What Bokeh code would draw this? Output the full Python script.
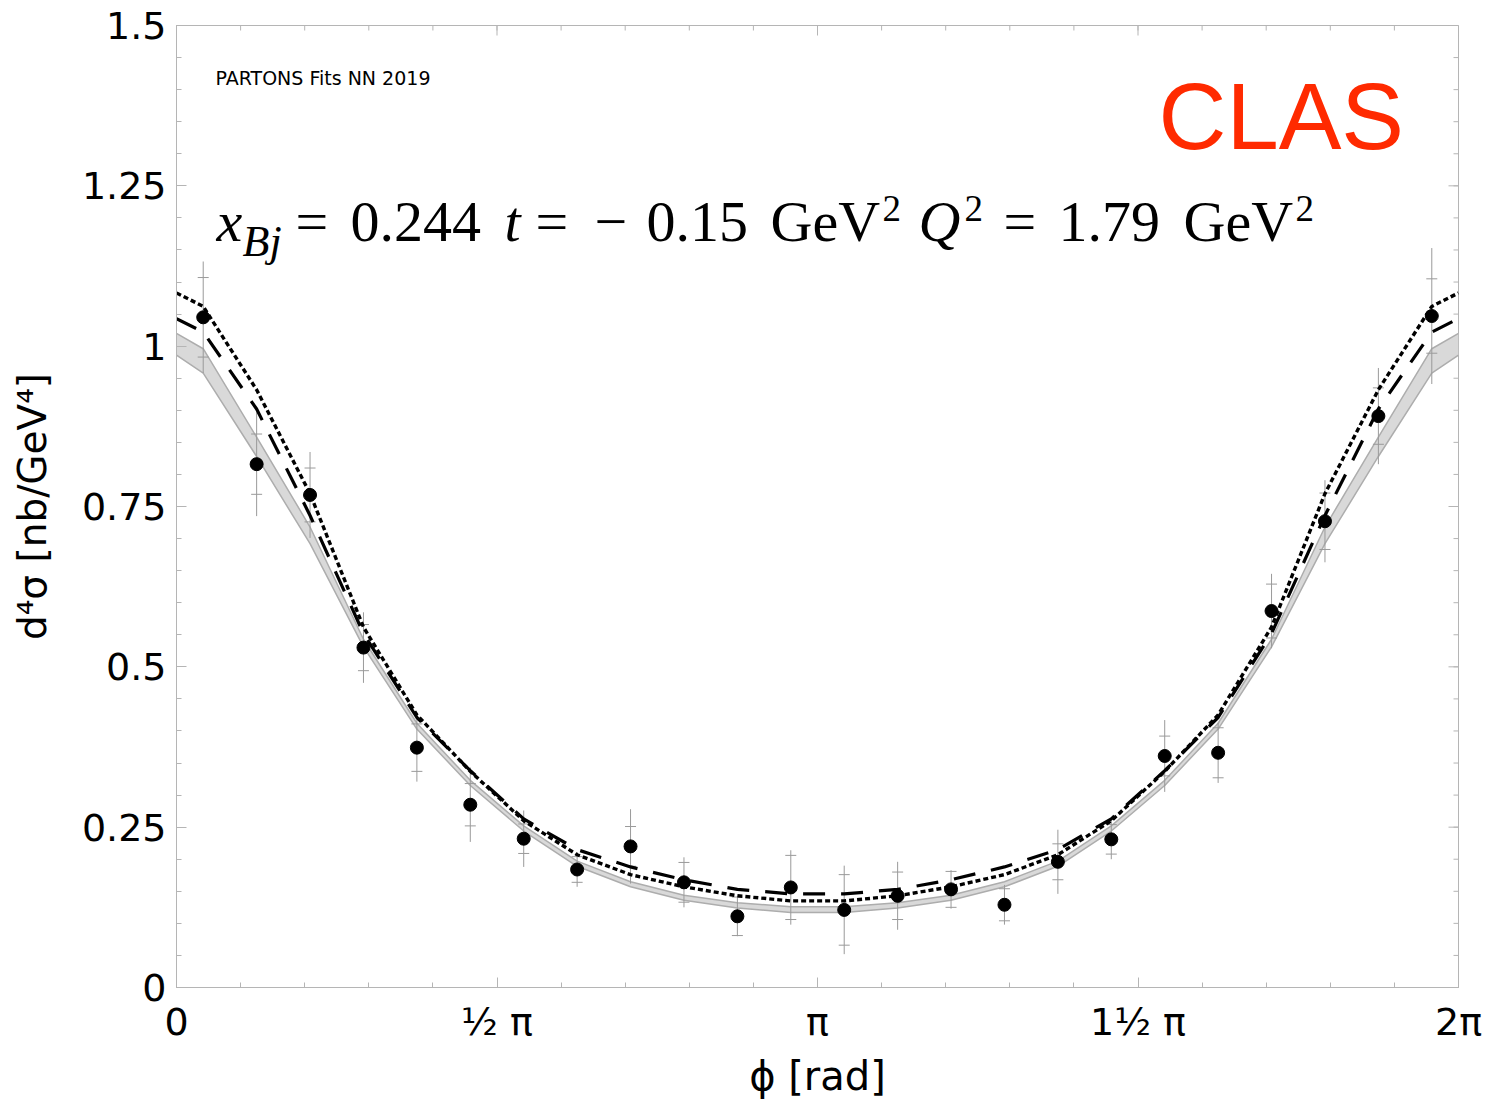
import math
from bokeh.plotting import figure
from bokeh.models import Range1d, FixedTicker, LinearAxis, Label
from bokeh.embed import file_html
from bokeh.resources import INLINE

# ---------------- data ----------------
phi_deg = [7.5, 22.5, 37.5, 52.5, 67.5, 82.5, 97.5, 112.5, 127.5, 142.5, 157.5, 172.5,
           187.5, 202.5, 217.5, 232.5, 247.5, 262.5, 277.5, 292.5, 307.5, 322.5, 337.5, 352.5]
xsec = [1.045, 0.816, 0.768, 0.530, 0.374, 0.285, 0.232, 0.184, 0.220, 0.164, 0.111, 0.156,
        0.121, 0.143, 0.153, 0.129, 0.196, 0.231, 0.361, 0.366, 0.587, 0.727, 0.891, 1.047]
err_stat = [0.062, 0.047, 0.042, 0.036, 0.037, 0.033, 0.023, 0.020, 0.031, 0.031, 0.030, 0.050,
            0.055, 0.037, 0.028, 0.025, 0.028, 0.023, 0.031, 0.039, 0.042, 0.044, 0.044, 0.058]
err_tot = [0.087, 0.081, 0.067, 0.055, 0.053, 0.058, 0.044, 0.027, 0.058, 0.039, 0.031, 0.058,
           0.069, 0.053, 0.030, 0.031, 0.050, 0.031, 0.056, 0.047, 0.058, 0.064, 0.075, 0.106]

curve_deg = [0, 7.5, 22.5, 37.5, 52.5, 67.5, 82.5, 97.5, 112.5, 127.5, 142.5, 157.5, 172.5,
             187.5, 202.5, 217.5, 232.5, 247.5, 262.5, 277.5, 292.5, 307.5, 322.5, 337.5, 352.5, 360]
dotted_curve = [1.083, 1.062, 0.932, 0.770, 0.562, 0.425, 0.337, 0.260, 0.207, 0.176, 0.157, 0.143, 0.135,
                0.135, 0.143, 0.157, 0.176, 0.207, 0.260, 0.337, 0.425, 0.562, 0.770, 0.932, 1.062, 1.083]
dashed_curve = [1.043, 1.022, 0.902, 0.736, 0.552, 0.421, 0.338, 0.263, 0.215, 0.188, 0.168, 0.153, 0.146,
                0.146, 0.153, 0.168, 0.188, 0.215, 0.263, 0.338, 0.421, 0.552, 0.736, 0.902, 1.022, 1.043]
band_hi = [1.020, 0.996, 0.858, 0.718, 0.543, 0.412, 0.323, 0.252, 0.197, 0.165, 0.144, 0.132, 0.126,
           0.126, 0.132, 0.144, 0.165, 0.197, 0.252, 0.323, 0.412, 0.543, 0.718, 0.858, 0.996, 1.020]
band_lo = [0.986, 0.958, 0.828, 0.692, 0.531, 0.403, 0.315, 0.244, 0.189, 0.157, 0.136, 0.124, 0.117,
           0.117, 0.124, 0.136, 0.157, 0.189, 0.244, 0.315, 0.403, 0.531, 0.692, 0.828, 0.958, 0.986]

y_ticks = [0, 0.25, 0.5, 0.75, 1.0, 1.25, 1.5]
y_tick_labels = ["0", "0.25", "0.5", "0.75", "1", "1.25", "1.5"]
x_ticks = [0, math.pi / 2, math.pi, 3 * math.pi / 2, 2 * math.pi]
x_tick_labels = ["0", "\u00bd \u03c0", "\u03c0", "1\u00bd \u03c0", "2\u03c0"]

# ---------------- layout ----------------
W, H = 1486, 1111
FL, FR, FT, FB = 176, 1458, 25, 987
XMAX = 2 * math.pi
YMAX = 1.5


def px2x(px):
    return (px - FL) / (FR - FL) * XMAX


def py2y(py):
    return (FB - py) / (FB - FT) * YMAX


p = figure(width=W, height=H, output_backend="svg", toolbar_location=None,
           x_range=Range1d(0, XMAX), y_range=Range1d(0, YMAX),
           min_border_left=FL, min_border_right=W - FR, min_border_top=FT,
           min_border_bottom=H - FB, x_axis_location=None, y_axis_location=None)
p.xgrid.visible = False
p.ygrid.visible = False
AX_COL = "#b5b5b5"
p.outline_line_color = AX_COL
p.background_fill_color = "white"
p.border_fill_color = "white"

x_minor = [k * math.pi / 10 for k in range(21)]
y_minor = [round(0.05 * k, 2) for k in range(31)]
xt = FixedTicker(ticks=x_ticks, minor_ticks=x_minor)
yt = FixedTicker(ticks=y_ticks, minor_ticks=y_minor)


def style_axis(ax):
    ax.axis_line_color = AX_COL
    ax.major_tick_line_color = AX_COL
    ax.minor_tick_line_color = AX_COL
    ax.major_tick_in = 10
    ax.major_tick_out = 0
    ax.minor_tick_in = 5
    ax.minor_tick_out = 0
    ax.major_label_text_font = "DejaVu Sans"
    ax.major_label_text_color = "black"
    ax.axis_label_text_font = "DejaVu Sans"
    ax.axis_label_text_font_style = "normal"
    ax.axis_label_text_color = "black"


xb = LinearAxis(ticker=xt, axis_label="\u03d5 [rad]")
style_axis(xb)
xb.major_label_overrides = {t: l for t, l in zip(x_ticks, x_tick_labels)}
xb.major_label_text_font_size = "38px"
xb.major_label_standoff = 12
xb.axis_label_text_font_size = "40px"
xb.axis_label_standoff = 6
p.add_layout(xb, "below")

yl = LinearAxis(ticker=yt, axis_label="d\u2074\u03c3 [nb/GeV\u2074]")
style_axis(yl)
yl.major_label_overrides = {t: l for t, l in zip(y_ticks, y_tick_labels)}
yl.major_label_text_font_size = "38px"
yl.major_label_standoff = 10
yl.axis_label_text_font_size = "39px"
yl.axis_label_standoff = 24
p.add_layout(yl, "left")

# inward ticks on the top and right frame edges (no labels)
tx_maj = 10 / (FR - FL) * XMAX
tx_min = 5 / (FR - FL) * XMAX
ty_maj = 10 / (FB - FT) * YMAX
ty_min = 5 / (FB - FT) * YMAX
p.segment(x0=x_minor, y0=[YMAX] * len(x_minor), x1=x_minor, y1=[YMAX - ty_min] * len(x_minor),
          line_color=AX_COL, line_width=1)
p.segment(x0=x_ticks, y0=[YMAX] * len(x_ticks), x1=x_ticks, y1=[YMAX - ty_maj] * len(x_ticks),
          line_color=AX_COL, line_width=1)
p.segment(x0=[XMAX] * len(y_minor), y0=y_minor, x1=[XMAX - tx_min] * len(y_minor), y1=y_minor,
          line_color=AX_COL, line_width=1)
p.segment(x0=[XMAX] * len(y_ticks), y0=y_ticks, x1=[XMAX - tx_maj] * len(y_ticks), y1=y_ticks,
          line_color=AX_COL, line_width=1)

# ---------------- glyphs ----------------
cx = [d * math.pi / 180 for d in curve_deg]
px = [d * math.pi / 180 for d in phi_deg]

p.varea(x=cx, y1=band_lo, y2=band_hi, fill_color="#d9d9d9")
p.line(cx, band_hi, line_color="#adadad", line_width=1.5)
p.line(cx, band_lo, line_color="#adadad", line_width=1.5)

p.segment(x0=px, y0=[y - e for y, e in zip(xsec, err_tot)],
          x1=px, y1=[y + e for y, e in zip(xsec, err_tot)],
          line_color="#9a9a9a", line_width=1)
p.scatter(px, [y + e for y, e in zip(xsec, err_stat)], marker="dash", size=11,
          line_color="#9a9a9a", line_width=1)
p.scatter(px, [y - e for y, e in zip(xsec, err_stat)], marker="dash", size=11,
          line_color="#9a9a9a", line_width=1)

p.line(cx, dashed_curve, line_color="black", line_width=3.2, line_dash="22 16")
p.line(cx, dotted_curve, line_color="black", line_width=3.4, line_dash="5 3")

p.scatter(px, xsec, size=13, fill_color="black", line_color="black")


# ---------------- texts ----------------
def add_label(text, lx, ly, size, font="Liberation Serif", style="normal", color="black"):
    # ly is the wanted baseline in pixels; compensate for the label's baseline offset
    ly_adj = ly - 0.36 * size
    p.add_layout(Label(x=px2x(lx), y=py2y(ly_adj), text=text, text_font=font,
                       text_font_size=f"{size}px", text_font_style=style, text_color=color,
                       text_align="left", text_baseline="alphabetic"))


add_label("PARTONS Fits NN 2019", 215, 84, 19, font="DejaVu Sans")
add_label("CLAS", 1158, 150, 94, font="Liberation Sans", color="#ff2a00")

BL = 242
add_label("x", 216, BL, 58, style="italic")
add_label("Bj", 242, 257, 44, style="italic")
add_label("=", 295, BL, 58)
add_label("0.244", 350, BL, 58)
add_label("t", 504, BL, 58, style="italic")
add_label("=", 535, BL, 58)
add_label("\u2212", 594, BL, 58)
add_label("0.15", 646, BL, 58)
add_label("GeV", 770, BL, 58)
add_label("2", 882, 221, 37)
add_label("Q", 918, BL, 58, style="italic")
add_label("2", 964, 221, 37)
add_label("=", 1003, BL, 58)
add_label("1.79", 1058, BL, 58)
add_label("GeV", 1183, BL, 58)
add_label("2", 1295, 221, 37)

open("out.html", "w").write(file_html(p, INLINE))
